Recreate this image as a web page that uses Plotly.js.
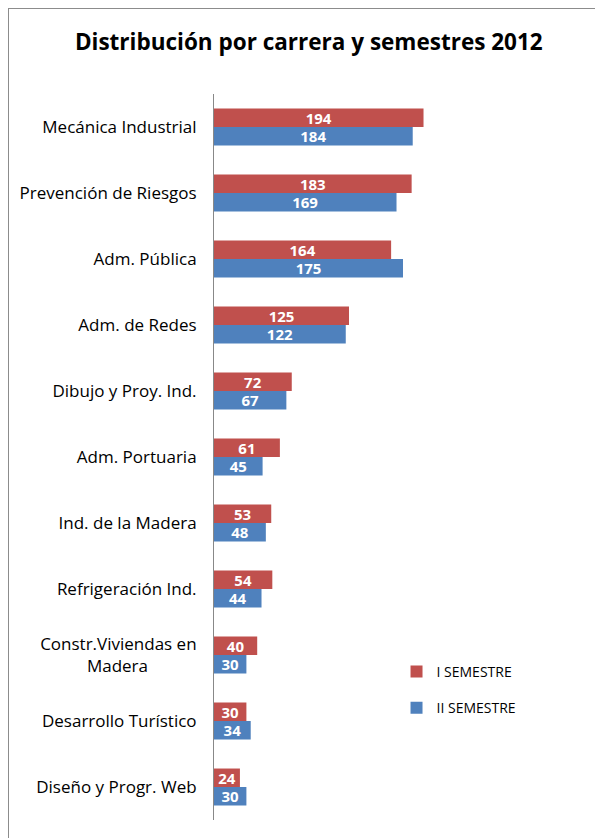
<!DOCTYPE html>
<html><head><meta charset="utf-8">
<script src="https://cdn.plot.ly/plotly-3.0.1.min.js"></script>
<style>
body{margin:0;padding:0;background:#fff;}
#frame{position:absolute;left:8px;top:8px;width:620px;height:860px;border:1px solid #8c8c8c;}
#chart{position:absolute;left:0;top:0;width:595px;height:838px;}
</style></head>
<body>
<div id="frame"></div>
<div id="chart"></div>
<script>
const categories = ["Mecánica Industrial","Prevención de Riesgos","Adm. Pública","Adm. de Redes","Dibujo y Proy. Ind.","Adm. Portuaria","Ind. de la Madera","Refrigeración Ind.","Constr.Viviendas en<br>Madera&nbsp;&nbsp;&nbsp;&nbsp;&nbsp;&nbsp;&nbsp;&nbsp;&nbsp;&nbsp;&nbsp;","Desarrollo Turístico","Diseño y Progr. Web"];
const semestre1 = [194,183,164,125,72,61,53,54,40,30,24];
const semestre2 = [184,169,175,122,67,45,48,44,30,34,30];
const seriesNames = ["I SEMESTRE","II SEMESTRE"];
const colors = ["#C0504D","#4F81BD"];
const FONT = "'Open Sans', sans-serif";

const mk = (vals, i) => ({
  type:'bar', orientation:'h', x: vals, y: categories, name: seriesNames[i],
  marker:{color:colors[i]},
  text: vals.map(String), textposition:'inside', insidetextanchor:'middle',
  constraintext:'none', textangle:0,
  textfont:{color:'#fff', size:15, family:FONT, weight:'bold'},
  hoverinfo:'none', legend: i===0 ? 'legend' : 'legend2'
});

const data = [mk(semestre1,0), mk(semestre2,1)];
const layout = {
  width:595, height:838,
  paper_bgcolor:'rgba(0,0,0,0)', plot_bgcolor:'rgba(0,0,0,0)',
  margin:{l:214, r:164.5, t:94, b:18},
  barmode:'group', bargap:0.44, bargroupgap:0,
  font:{family:FONT, color:'#000'},
  title:{text:'<b>Distribución por carrera y semestres 2012</b>', xref:'container', yref:'container', x:0.519, y:1-42/838, xanchor:'center', yanchor:'middle', font:{size:22.5, family:FONT, color:'#000'}},
  xaxis:{range:[0,200], visible:false, fixedrange:true},
  yaxis:{autorange:'reversed', type:'category', showline:true, linecolor:'#888', linewidth:1, ticks:'', showgrid:false, zeroline:false, ticklabelstandoff:13, tickfont:{size:17, family:FONT, color:'#000'}},
  showlegend:true,
  legend:{x:0.845, y:0.204, xanchor:'left', yanchor:'middle', font:{size:14, family:FONT, color:'#000'}, bgcolor:'rgba(0,0,0,0)'},
  legend2:{x:0.845, y:0.154, xanchor:'left', yanchor:'middle', font:{size:14, family:FONT, color:'#000'}, bgcolor:'rgba(0,0,0,0)'}
};
Plotly.newPlot('chart', data, layout, {staticPlot:true, displayModeBar:false});
</script>
</body></html>
